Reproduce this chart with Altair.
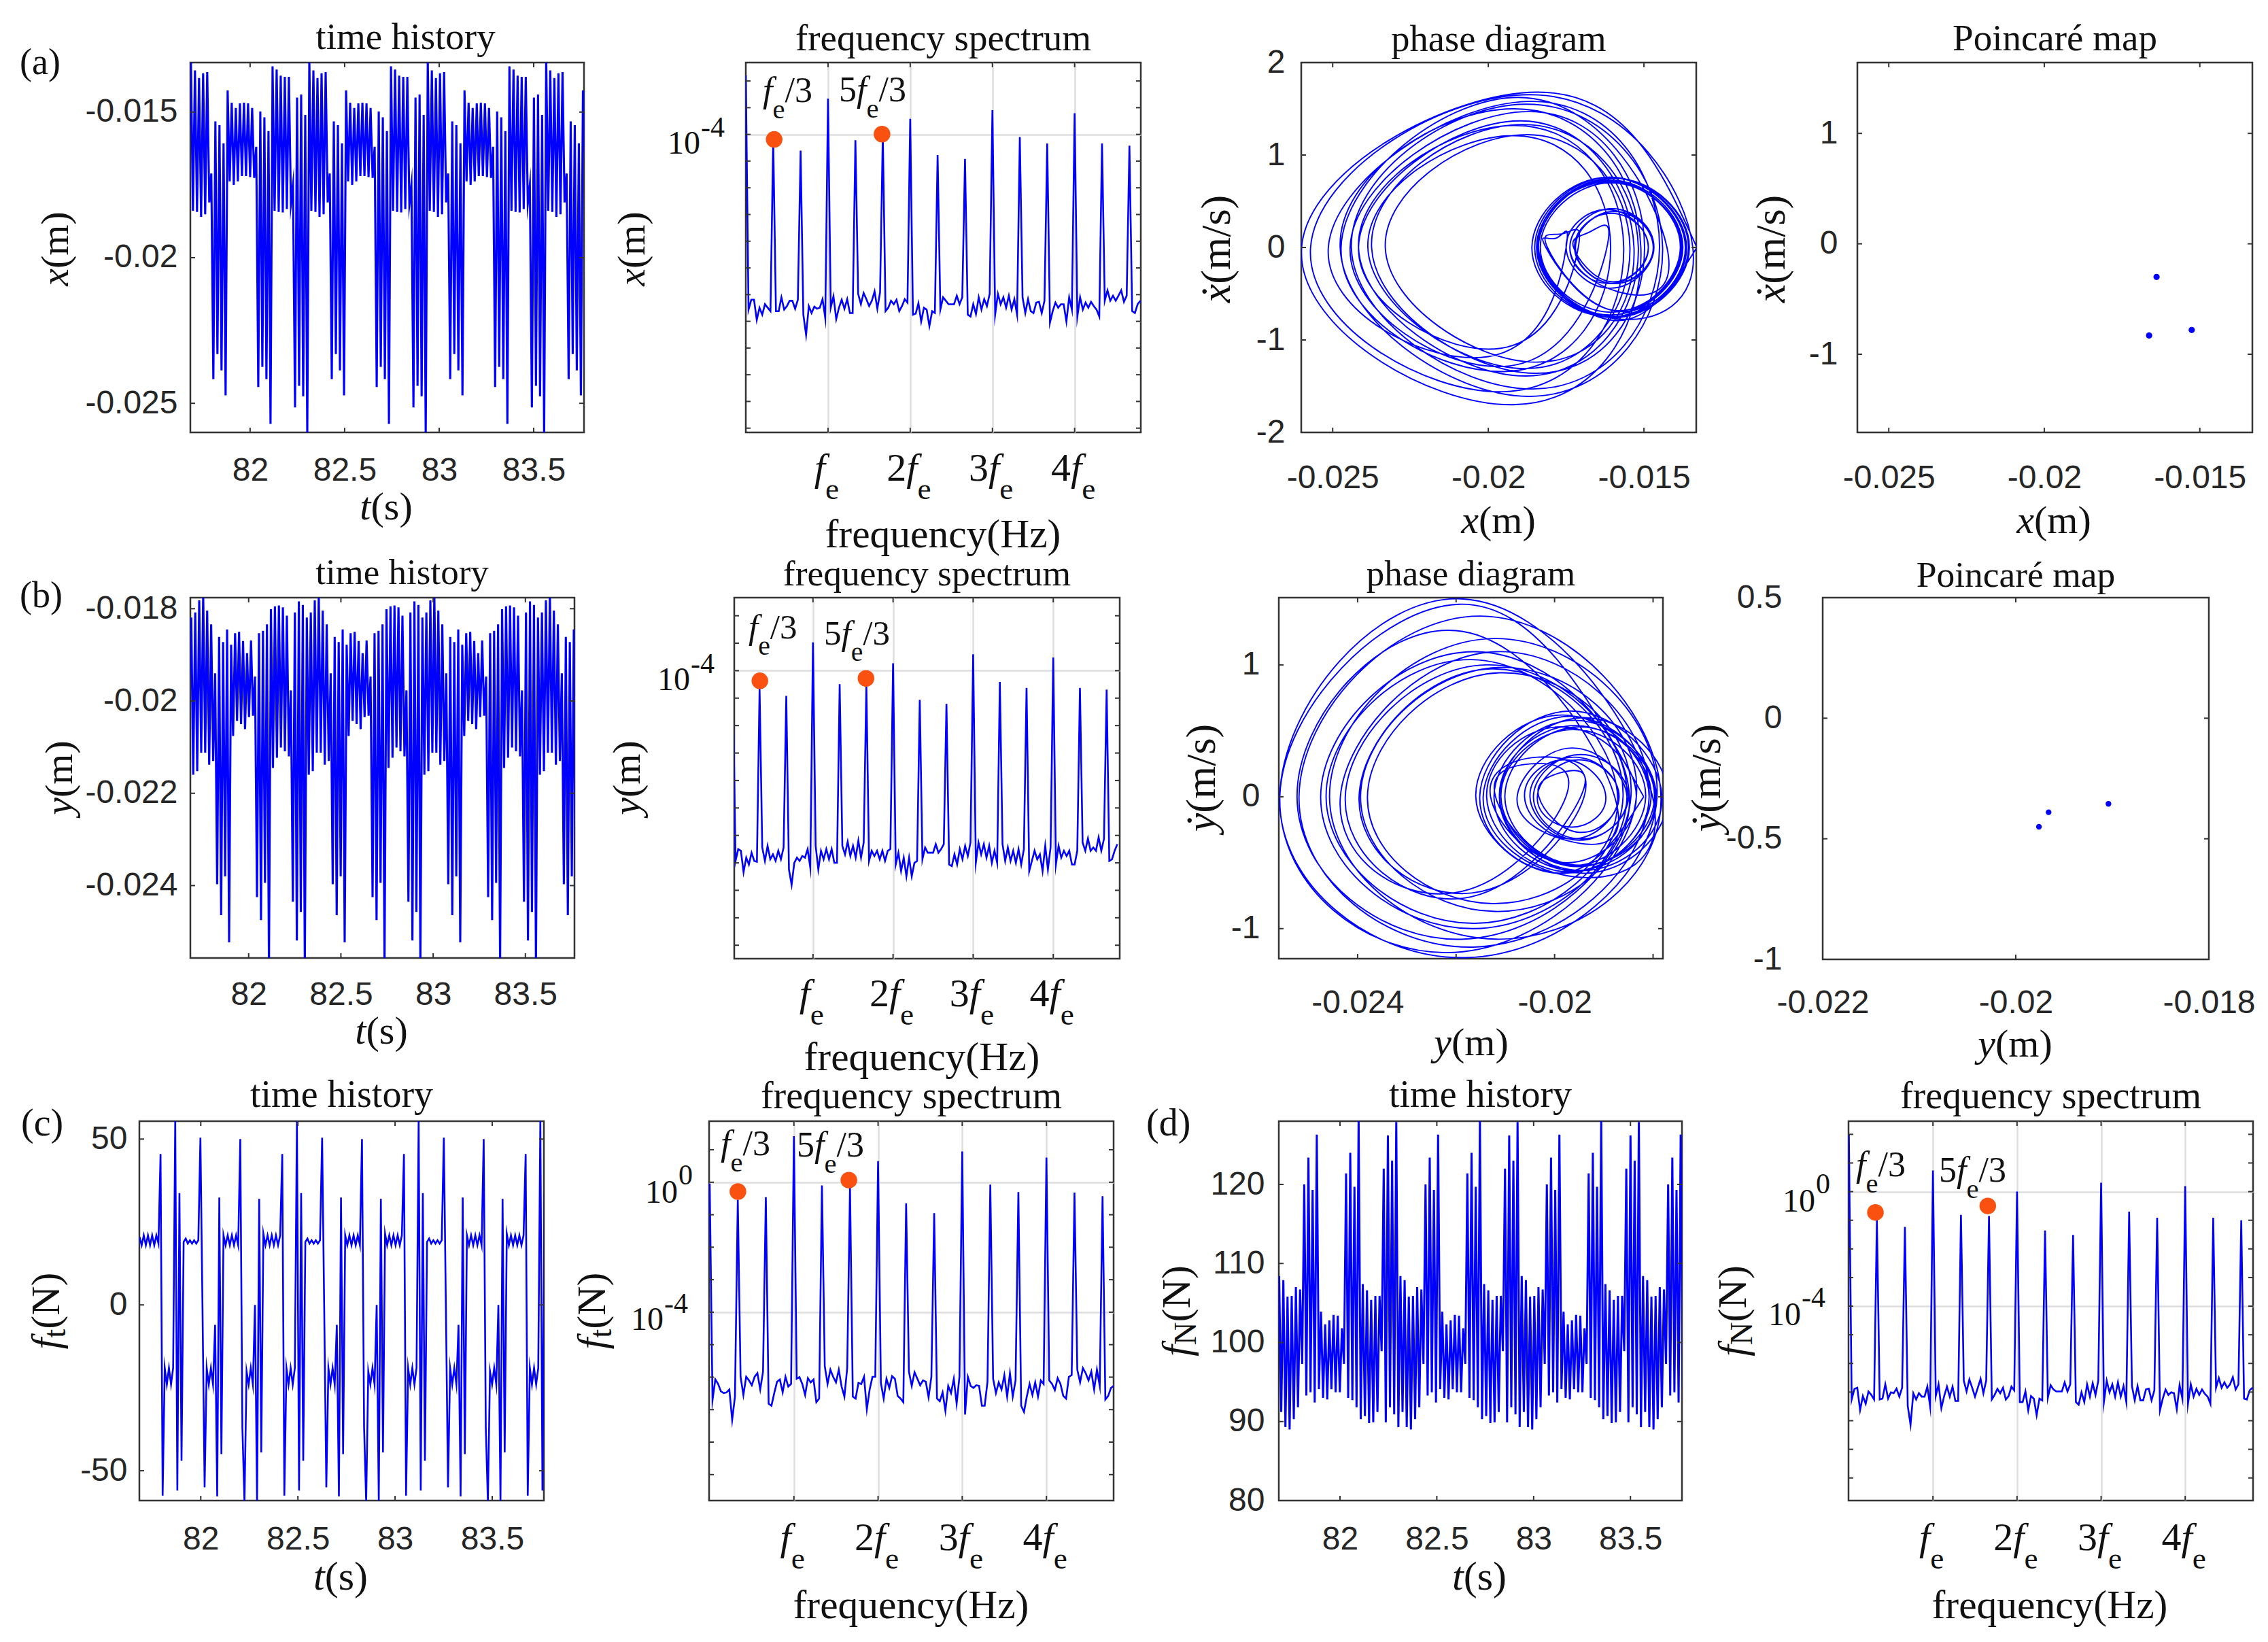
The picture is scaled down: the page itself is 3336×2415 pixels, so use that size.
import altair as alt
import pandas as pd

# ---------- time histories: samples every half oscillation ----------
t_step = 0.0108
t0_x, t0_y, t0_ft, t0_fn = 81.676, 81.678, 81.685, 81.675

# x(t) in mm
x_time_mm = [-16.67,
 -13.2,-18.39,-13.57,-18.43,-13.83,-18.60,-13.67,-18.51,-13.63,-18.10,-17.11,-24.17,-15.32,-23.31,-15.45,-23.87,-16.07,-24.73,-14.26,-17.38,-14.68,-17.50,-14.86,-17.38,-14.70,-17.20,-14.68,-17.20,-14.70,-17.23,-14.86,-17.26,-16.19,-24.44,-14.98,-23.75,-15.18,-24.17,-15.65,-25.71,-13.43,-18.39,-13.54,-18.43,-13.75,-18.45,-13.79,-18.33,-13.79,-18.15,-17.50,-25.14,-14.50,-24.40,-14.40,-24.76,-15.10,-26.1,
 -13.2,-18.39,-13.57,-18.43,-13.83,-18.60,-13.67,-18.51,-13.63,-18.10,-17.11,-24.17,-15.32,-23.31,-15.45,-23.87,-16.07,-24.73,-14.26,-17.38,-14.68,-17.50,-14.86,-17.38,-14.70,-17.20,-14.68,-17.20,-14.70,-17.23,-14.86,-17.26,-16.19,-24.44,-14.98,-23.75,-15.18,-24.17,-15.65,-25.71,-13.43,-18.39,-13.54,-18.43,-13.75,-18.45,-13.79,-18.33,-13.79,-18.15,-17.50,-25.14,-14.50,-24.40,-14.40,-24.76,-15.10,-26.1,
 -13.2,-18.39,-13.57,-18.43,-13.83,-18.60,-13.67,-18.51,-13.63,-18.10,-17.11,-24.17,-15.32,-23.31,-15.45,-23.87,-16.07,-24.73,-14.26,-17.38,-14.68,-17.50,-14.86,-17.38,-14.70,-17.20,-14.68,-17.20,-14.70,-17.23,-14.86,-17.26,-16.19,-24.44,-14.98,-23.75,-15.18,-24.17,-15.65,-25.71,-13.43,-18.39,-13.54,-18.43,-13.75,-18.45,-13.79,-18.33,-13.79,-18.15,-17.50,-25.14,-14.50,-24.40,-14.40,-24.76,-15.10,-26.1,
 -13.2,-18.39,-13.57,-18.43,-13.83,-18.60,-13.67,-18.51,-13.63,-18.10,-17.11,-24.17,-15.32,-23.31,-15.45,-23.87,-16.07,-24.73,-14.26,-16.5]

# y(t) in mm
y_time_mm = [-19.62,
 -18.19,-21.60,-18.08,-21.52,-17.82,-21.12,-17.7,-21.12,-18.04,-21.38,-18.34,-21.30,-19.40,-23.97,-18.61,-24.64,-18.72,-23.80,-18.45,-25.23,-18.78,-20.76,-18.53,-20.43,-18.50,-20.50,-18.70,-20.61,-18.96,-20.35,-18.69,-20.32,-19.47,-24.25,-18.53,-24.75,-18.48,-23.94,-18.34,-25.7,-18.01,-21.45,-17.95,-21.23,-17.93,-21.01,-17.97,-21.09,-18.15,-21.20,-19.77,-24.35,-18.08,-25.19,-17.84,-24.57,-17.92,-25.7,
 -18.19,-21.60,-18.08,-21.52,-17.82,-21.12,-17.7,-21.12,-18.04,-21.38,-18.34,-21.30,-19.40,-23.97,-18.61,-24.64,-18.72,-23.80,-18.45,-25.23,-18.78,-20.76,-18.53,-20.43,-18.50,-20.50,-18.70,-20.61,-18.96,-20.35,-18.69,-20.32,-19.47,-24.25,-18.53,-24.75,-18.48,-23.94,-18.34,-25.7,-18.01,-21.45,-17.95,-21.23,-17.93,-21.01,-17.97,-21.09,-18.15,-21.20,-19.77,-24.35,-18.08,-25.19,-17.84,-24.57,-17.92,-25.7,
 -18.19,-21.60,-18.08,-21.52,-17.82,-21.12,-17.7,-21.12,-18.04,-21.38,-18.34,-21.30,-19.40,-23.97,-18.61,-24.64,-18.72,-23.80,-18.45,-25.23,-18.78,-20.76,-18.53,-20.43,-18.50,-20.50,-18.70,-20.61,-18.96,-20.35,-18.69,-20.32,-19.47,-24.25,-18.53,-24.75,-18.48,-23.94,-18.34,-25.7,-18.01,-21.45,-17.95,-21.23,-17.93,-21.01,-17.97,-21.09,-18.15,-21.20,-19.77,-24.35,-18.08,-25.19,-17.84,-24.57,-17.92,-25.7,
 -18.19,-21.60,-18.08,-21.52,-17.82,-21.12,-17.7,-21.12,-18.04,-21.38,-18.34,-21.30,-19.40,-23.97,-18.61,-24.64,-18.72,-23.80,-18.45,-25.23,-18.78,-19.9]

# f_t(t) in N
ft_time = [20.5,18,21,18,21,18,21,18,21,18.5,
 45.5,-57.5,-19,-24,-19,-24,-19,56,-56,33.7,-47,19,20,18.5,19.5,18.5,19.5,18.5,19.5,50.4,-1.4,-55,-19,-24,-19,-24,-6,-57.7,32.4,-45,21,18,21,18,21,18,21,18,50,-37,-59.5,-20,-24,-19,-24,0,-59.5,32,-44.5,21.5,18,21,18,21,18,21,18,21,
 45.5,-57.5,-19,-24,-19,-24,-19,56,-56,33.7,-47,19,20,18.5,19.5,18.5,19.5,18.5,19.5,50.4,-1.4,-55,-19,-24,-19,-24,-6,-57.7,32.4,-45,21,18,21,18,21,18,21,18,50,-37,-59.5,-20,-24,-19,-24,0,-59.5,32,-44.5,21.5,18,21,18,21,18,21,18,21,
 45.5,-57.5,-19,-24,-19,-24,-19,56,-56,33.7,-47,19,20,18.5,19.5,18.5,19.5,18.5,19.5,50.4,-1.4,-55,-19,-24,-19,-24,-6,-57.7,32.4,-45,21,18,21,18,21,18,21,18,50,-37,-59.5,-20,-24,-19,-24,0,-59.5,32,-44.5,21.5,18,21,18,21,18,21,18,21,
 45.5,-57.5,-19,-24,-19,-24,-19,56,-56,33.7,-47,20]

# f_N(t) in N
fn_time = [98.4,
 108.4,91.2,107.9,89.3,105.8,89.0,105.9,90.3,107.0,91.8,106.7,97.3,120.0,93.3,123.4,93.7,119.3,92.4,126.3,94.1,103.9,93.0,102.3,92.8,102.8,94.1,103.5,93.7,103.4,93.7,101.8,97.3,121.4,93.0,124.0,92.7,119.7,91.8,128.2,90.3,107.4,90.7,106.6,89.8,105.4,89.9,105.9,91.2,105.9,98.9,122.0,89.9,126.2,91.8,123.0,90.9,127.9,89.3,
 108.4,91.2,107.9,89.3,105.8,89.0,105.9,90.3,107.0,91.8,106.7,97.3,120.0,93.3,123.4,93.7,119.3,92.4,126.3,94.1,103.9,93.0,102.3,92.8,102.8,94.1,103.5,93.7,103.4,93.7,101.8,97.3,121.4,93.0,124.0,92.7,119.7,91.8,128.2,90.3,107.4,90.7,106.6,89.8,105.4,89.9,105.9,91.2,105.9,98.9,122.0,89.9,126.2,91.8,123.0,90.9,127.9,89.3,
 108.4,91.2,107.9,89.3,105.8,89.0,105.9,90.3,107.0,91.8,106.7,97.3,120.0,93.3,123.4,93.7,119.3,92.4,126.3,94.1,103.9,93.0,102.3,92.8,102.8,94.1,103.5,93.7,103.4,93.7,101.8,97.3,121.4,93.0,124.0,92.7,119.7,91.8,128.2,90.3,107.4,90.7,106.6,89.8,105.4,89.9,105.9,91.2,105.9,98.9,122.0,89.9,126.2,91.8,123.0,90.9,127.9,89.3,
 108.4,91.2,107.9,89.3,105.8,89.0,105.9,90.3,107.0,91.8,106.7,97.3,120.0,93.3,123.4,93.7,119.3,92.4,126.3,94.1,99.0]

# ---------- spectra: log10 amplitude per bin, bins fe/30 apart ----------
spec_x = [-1.79,-10.56,-10.19,-10.19,-10.95,-10.49,-10.75,-10.36,-10.49,-10.62,-4.19,-10.62,-10.62,-10.10,-10.56,-10.43,-10.23,-10.23,-10.53,-10.19,-4.61,-10.75,-11.51,-10.43,-10.69,-10.45,-10.53,-10.49,-10.17,-10.88,-2.66,-10.49,-10.06,-10.92,-10.49,-10.19,-10.53,-10.17,-10.69,-10.69,-4.22,-9.97,-10.36,-9.94,-10.17,-10.43,-10.23,-9.88,-10.53,-9.91,-4.0,-10.62,-10.49,-10.23,-10.36,-10.19,-10.62,-10.43,-10.17,-10.30,-3.42,-10.75,-10.71,-10.32,-11.01,-10.49,-10.56,-11.18,-10.62,-10.69,-4.77,-10.56,-10.10,-10.23,-10.36,-10.36,-10.36,-10.04,-10.36,-10.10,-4.92,-10.75,-10.82,-10.36,-10.73,-10.10,-10.56,-10.17,-10.43,-9.97,-3.09,-10.75,-9.97,-10.36,-10.10,-10.49,-10.04,-10.56,-10.17,-10.75,-4.10,-10.10,-10.69,-10.17,-10.62,-10.69,-10.30,-10.27,-10.69,-10.23,-4.34,-11.05,-10.62,-10.30,-10.49,-10.36,-10.36,-11.01,-10.10,-10.56,-3.21,-10.82,-10.10,-10.56,-10.30,-10.49,-10.27,-10.43,-10.56,-10.82,-4.34,-10.23,-9.84,-10.23,-10.04,-10.23,-10.04,-9.84,-10.27,-10.04,-4.42,-10.62,-10.69,-10.36,-10.23]
spec_y = [-4.65,-10.93,-10.50,-10.56,-11.34,-10.81,-11.06,-10.63,-10.93,-10.96,-4.65,-10.44,-10.93,-10.38,-10.87,-10.69,-10.93,-10.56,-10.87,-10.44,-4.92,-11.24,-11.80,-11.0,-10.81,-10.93,-10.75,-10.81,-10.50,-11.18,-2.97,-10.38,-11.24,-10.56,-10.87,-10.50,-10.87,-10.50,-11.0,-11.0,-4.49,-10.38,-10.69,-10.23,-10.75,-10.38,-10.81,-10.19,-10.81,-10.26,-4.53,-10.93,-10.56,-10.75,-10.56,-10.87,-10.56,-10.93,-10.56,-10.50,-3.73,-11.06,-10.63,-11.30,-10.81,-11.49,-10.81,-11.49,-11.0,-10.93,-5.06,-10.87,-10.44,-10.63,-10.63,-10.63,-10.32,-10.63,-10.50,-10.32,-5.21,-11.06,-11.12,-10.69,-11.06,-10.50,-10.87,-10.38,-10.75,-10.26,-3.40,-11.0,-10.26,-10.69,-10.32,-10.81,-10.38,-11.0,-10.56,-11.0,-4.41,-10.32,-10.93,-10.44,-10.93,-10.56,-11.0,-10.50,-11.06,-10.50,-4.63,-11.30,-10.93,-10.56,-10.87,-10.69,-11.30,-10.38,-11.24,-10.44,-3.52,-11.06,-10.38,-10.81,-10.56,-10.75,-10.56,-11.06,-11.06,-10.56,-4.63,-10.26,-10.56,-10.11,-10.56,-10.44,-10.56,-10.07,-10.56,-10.13,-4.69,-10.93,-10.87,-10.56,-10.32]
spec_ft = [-.04,-6.71,-6.07,-6.21,-6.44,-6.49,-6.47,-6.38,-7.32,-6.60,-.54,-5.99,-6.55,-5.99,-6.10,-6.25,-5.99,-5.88,-6.38,-5.83,-.46,-6.82,-6.88,-6.49,-6.14,-6.07,-6.47,-5.99,-6.29,-6.21,1.42,-6.05,-6.0,-6.21,-6.55,-6.03,-6.16,-6.07,-6.77,-6.66,-.10,-5.66,-6.21,-5.77,-5.99,-6.16,-5.77,-6.29,-6.60,-5.72,-.15,-6.60,-6.66,-6.18,-6.21,-5.99,-6.99,-6.38,-5.99,-5.99,.65,-6.18,-6.66,-6.05,-6.33,-5.97,-6.05,-6.58,-6.66,-6.77,-.65,-5.83,-6.27,-5.85,-6.05,-6.25,-6.10,-6.14,-6.62,-5.99,-.95,-6.66,-6.74,-6.47,-7.04,-6.27,-6.49,-6.05,-6.82,-5.99,.95,-7.15,-5.99,-6.27,-6.33,-6.25,-6.27,-6.88,-6.88,-6.14,-.07,-6.05,-6.49,-6.16,-6.38,-5.94,-6.60,-5.88,-6.60,-6.10,-.30,-6.88,-7.07,-6.60,-6.21,-6.55,-6.16,-6.60,-6.10,-6.21,.76,-6.10,-6.21,-6.40,-6.03,-6.21,-6.58,-6.66,-5.99,-5.94,-.32,-5.77,-6.16,-5.72,-5.88,-6.10,-5.83,-6.38,-5.77,-6.27,-.43,-6.69,-6.58,-6.33,-6.27]
spec_fn = [1.99,-7.26,-6.89,-6.85,-7.63,-7.14,-7.41,-6.98,-7.10,-7.26,-.98,-7.26,-7.23,-6.73,-7.23,-7.01,-7.04,-6.88,-7.16,-6.85,-1.23,-7.48,-8.14,-7.04,-7.26,-7.04,-7.16,-7.16,-6.81,-7.51,.74,-7.14,-6.73,-7.56,-7.14,-6.81,-7.16,-6.81,-7.31,-7.31,-.81,-6.60,-6.98,-6.56,-6.85,-7.16,-6.85,-6.54,-7.04,-6.60,-.85,-7.26,-7.10,-6.89,-7.04,-6.85,-7.26,-7.14,-6.81,-6.94,0,-7.35,-7.35,-6.98,-7.64,-7.14,-7.23,-7.81,-7.23,-7.29,-1.36,-7.20,-6.76,-6.91,-6.98,-6.98,-6.98,-6.66,-6.98,-6.73,-1.51,-7.35,-7.44,-7.01,-7.35,-6.73,-7.16,-6.69,-7.10,-6.60,.31,-7.35,-6.60,-7.01,-6.73,-7.16,-6.66,-7.16,-6.79,-7.35,-.70,-6.79,-7.29,-6.79,-7.29,-7.29,-6.91,-6.88,-7.29,-6.94,-.91,-7.64,-7.23,-6.91,-7.10,-7.01,-7.04,-7.60,-6.76,-7.23,.19,-7.41,-6.73,-7.16,-6.89,-7.10,-6.91,-7.06,-7.16,-7.41,-.91,-6.85,-6.51,-6.85,-6.66,-6.85,-6.73,-6.48,-6.91,-6.73,-1.0,-7.23,-7.26,-6.94,-6.85]
markers_x = ([.345,1.657], [-4.19,-3.99])
markers_y = ([.337,1.662], [-4.37,-4.28])
markers_ft = ([.335,1.653], [-.286,.066])
markers_fn = ([.316,1.652], [-.725,-.5])

# ---------- phase loops: right turn, lower extreme, left turn, upper extreme ... ----------
phase_x_mm = [-13.3,-15.85,-18.39,-15.98,-13.57,-16.0,-18.43,-16.13,-13.83,-16.22,-18.6,-16.14,-13.67,-16.09,-18.51,-16.07,-13.63,-15.87,-18.1,-17.6,-17.11,-19.6,-24.17,-19.0,-15.32,-18.5,-23.31,-18.8,-15.45,-18.8,-23.87,-19.2,-16.07,-19.4,-24.73,-18.8,-14.26,-15.82,-17.38,-16.03,-14.68,-16.09,-17.5,-16.18,-14.86,-16.12,-17.38,-16.04,-14.7,-15.95,-17.2,-15.94,-14.68,-15.94,-17.2,-15.95,-14.7,-15.97,-17.23,-16.05,-14.86,-16.06,-17.26,-16.73,-16.19,-19.3,-24.44,-18.7,-14.98,-18.5,-23.75,-18.9,-15.18,-18.8,-24.17,-19.2,-15.65,-19.5,-25.71,-18.4,-13.43,-15.91,-18.39,-15.97,-13.54,-15.99,-18.43,-16.09,-13.75,-16.1,-18.45,-16.12,-13.79,-16.06,-18.33,-16.06,-13.79,-15.97,-18.15,-17.83,-17.5,-20.0,-25.14,-18.7,-14.5,-18.6,-24.4,-18.8,-14.4,-18.7,-24.76,-19.2,-15.1,-19.2,-26.0,-18.4,-13.3]
phase_v_x = [0,-.79,0,.75,0,-.75,0,.71,0,-.74,0,.76,0,-.75,0,.76,0,-.69,0,.15,0,-1.09,0,1.37,0,-1.24,0,1.22,0,-1.31,0,1.21,0,-1.34,0,1.62,0,-.48,0,.42,0,-.44,0,.41,0,-.39,0,.42,0,-.39,0,.39,0,-.39,0,.39,0,-.39,0,.37,0,-.37,0,.17,0,-1.28,0,1.47,0,-1.36,0,1.33,0,-1.39,0,1.32,0,-1.56,0,1.65,0,-.77,0,.75,0,-.76,0,.73,0,-.73,0,.72,0,-.70,0,.70,0,-.68,0,.10,0,-1.18,0,1.58,0,-1.53,0,1.55,0,-1.61,0,1.50,0,-1.70,0,1.68,0]
phase_y_mm = [-18.19,-19.9,-21.6,-19.84,-18.08,-19.8,-21.52,-19.67,-17.82,-19.47,-21.12,-19.41,-17.7,-19.41,-21.12,-19.58,-18.04,-19.71,-21.38,-19.86,-18.34,-19.82,-21.3,-20.35,-19.4,-21.68,-23.97,-21.29,-18.61,-21.62,-24.64,-21.68,-18.72,-21.26,-23.8,-21.12,-18.45,-21.84,-25.23,-22.0,-18.78,-19.77,-20.76,-19.65,-18.53,-19.48,-20.43,-19.47,-18.5,-19.5,-20.5,-19.6,-18.7,-19.65,-20.61,-19.78,-18.96,-19.65,-20.35,-19.52,-18.69,-19.5,-20.32,-19.9,-19.47,-21.86,-24.25,-21.39,-18.53,-21.64,-24.75,-21.6,-18.48,-21.21,-23.94,-21.14,-18.34,-22.02,-25.58,-21.85,-18.01,-19.73,-21.45,-19.7,-17.95,-19.59,-21.23,-19.58,-17.93,-19.47,-21.01,-19.49,-17.97,-19.53,-21.09,-19.62,-18.15,-19.67,-21.2,-20.48,-19.77,-22.06,-24.35,-21.2,-18.08,-21.64,-25.19,-21.5,-17.84,-21.2,-24.57,-21.24,-17.92,-21.8,-25.58,-21.94,-18.19]
phase_v_y = [0,-.58,0,.62,0,-.58,0,.65,0,-.56,0,.60,0,-.58,0,.54,0,-.57,0,.53,0,-.50,0,.30,0,-.73,0,.97,0,-.96,0,1.04,0,-.81,0,.94,0,-1.08,0,1.26,0,-.33,0,.37,0,-.32,0,.32,0,-.33,0,.30,0,-.32,0,.28,0,-.23,0,.28,0,-.27,0,.18,0,-.77,0,1.0,0,-1.0,0,1.1,0,-.87,0,.98,0,-1.18,0,1.50,0,-.6,0,.61,0,-.56,0,.58,0,-.52,0,.53,0,-.53,0,.51,0,-.52,0,.25,0,-.73,0,1.1,0,-1.14,0,1.37,0,-1.08,0,1.2,0,-1.22,0,1.46,0]

# ---------- Poincare points ----------
poincare_x = ([-.01639,-.01663,-.01526], [-.30,-.83,-.78])
poincare_y = ([-.01966,-.01976,-.01904], [-.39,-.45,-.355])

BLUE = "#0000FF"; ORANGE = "#FA5010"; INK = "#262626"; FRAME = "#333333"; GRID = "#DEDEDE"
SERIF = "Liberation Serif"; SANS = "Liberation Sans"
ONE = pd.DataFrame({"o": [0]})
W = {'f':.278,'x':.444,'y':.444,'t':.278,'N':.722,'e':.444,'/':.278,'(':.333,')':.333,'m':.778,'s':.389}

def text_layer(px, py, text, size, italic=False, angle=0, font=SERIF, color="#111111"):
    return alt.Chart(ONE).mark_text(text=text, fontSize=size, font=font, align="left", baseline="alphabetic",
                                    fontStyle="italic" if italic else "normal", angle=angle, color=color
                                    ).encode(x=alt.value(round(px, 1)), y=alt.value(round(py, 1)))

def width(s, size):
    return sum(W.get(c, .5) for c in s) * size

def rich(ox, oy, x, y, segs, size, angle=0, center=True, sub_dy=.47):
    """Place styled runs; x,y are page pixels of the start/centre and the baseline."""
    total = 0
    for s, k in segs:
        if k in "ir": total += width(s, size)
        if k == "s": total += width(s, size * .78)
    out, adv = [], -total / 2 if center else 0
    for s, k in segs:
        sz = size * .78 if k == "s" else size
        dy = size * sub_dy if k == "s" else 0
        dx = size * .1 if k == "d" else 0
        if angle == 0:
            px, py = x + adv + dx - ox, y + dy - oy
        else:
            px, py = x + dy - ox, y - adv - dx - oy
        out.append(text_layer(px, py, s, sz, italic=(k == "i"), angle=angle))
        if k in "irs": adv += width(s, sz)
    return out

TITLE_SHIFT = 55

def panel(box, xdom, ydom, series, title, xtick, ytick, xlab=None, ylab=None, padx=30, pady=20,
          title_size=55, title_off=17, title_dx=0, title_dy=0, log=False, lw=3.0, interp="linear", xgrid=None, ygrid=None,
          points=None, pt_size=85, pt_color=BLUE, extras=()):
    x0, x1, y0, y1 = box
    w, h = x1 - x0, y1 - y0
    xs = alt.Scale(domain=xdom, nice=False, zero=False)
    ys = alt.Scale(domain=ydom, nice=False, zero=False, type="log") if log else alt.Scale(domain=ydom, nice=False, zero=False)
    xaxis = alt.Axis(title=None, domain=False, ticks=False, labels=xlab is not None, values=xlab if xlab else (xgrid or []),
                     labelFont=SANS, labelFontSize=48, labelColor=INK, labelPadding=padx, labelExpr="''+datum.value",
                     labelOverlap=False, labelFlush=False, labelBound=False,
                     grid=bool(xgrid), gridColor=GRID, gridWidth=2.5)
    yaxis = alt.Axis(title=None, domain=False, ticks=False, labels=ylab is not None, values=ylab if ylab else (ygrid or []),
                     labelFont=SANS, labelFontSize=48, labelColor=INK, labelPadding=pady, labelExpr="''+datum.value",
                     labelOverlap=False, labelFlush=False, labelBound=False,
                     grid=bool(ygrid), gridColor=GRID, gridWidth=2.5)
    layers = []
    if series is not None:
        sx, sy = series
        df = pd.DataFrame({"a": sx, "b": sy, "i": range(len(sx))})
        layers.append(alt.Chart(df).mark_line(color=BLUE, strokeWidth=lw, clip=True, interpolate=interp, strokeJoin="miter", strokeMiterLimit=20).encode(
            x=alt.X("a:Q", scale=xs, axis=xaxis), y=alt.Y("b:Q", scale=ys, axis=yaxis), order="i:Q"))
    if points is not None:
        df = pd.DataFrame({"a": points[0], "b": points[1]})
        enc = dict(x=alt.X("a:Q", scale=xs, axis=None if series is not None else xaxis),
                   y=alt.Y("b:Q", scale=ys, axis=None if series is not None else yaxis))
        layers.append(alt.Chart(df).mark_circle(size=pt_size, color=pt_color, opacity=1).encode(**enc))
    L = 7
    dfx = pd.DataFrame({"a": xtick}); dfy = pd.DataFrame({"b": ytick})
    X = alt.X("a:Q", scale=xs, axis=None); Y = alt.Y("b:Q", scale=ys, axis=None)
    tick = dict(color=FRAME, strokeWidth=2)
    layers += [
        alt.Chart(dfx).mark_rule(**tick).encode(x=X, y=alt.value(h), y2=alt.value(h - L)),
        alt.Chart(dfx).mark_rule(**tick).encode(x=X, y=alt.value(0), y2=alt.value(L)),
        alt.Chart(dfy).mark_rule(**tick).encode(y=Y, x=alt.value(0), x2=alt.value(L)),
        alt.Chart(dfy).mark_rule(**tick).encode(y=Y, x=alt.value(w), x2=alt.value(w - L)),
    ]
    layers += list(extras)
    tp = alt.TitleParams(text=title, font=SERIF, fontSize=title_size, fontWeight="normal", color="#111111",
                         offset=title_off, dx=title_dx, dy=TITLE_SHIFT + title_dy, anchor="middle", baseline="alphabetic")
    return alt.layer(*layers).resolve_axis(x="independent", y="independent").properties(width=w, height=h, title=tp)

def spacer(w):
    return alt.Chart(ONE).mark_point(opacity=0).encode(x=alt.value(0), y=alt.value(0)).properties(
        width=w, height=1, view=alt.ViewConfig(stroke=None, strokeWidth=0))

ORIGIN_X = 205

def row(boxes, charts):
    items = []
    if boxes[0][0] > ORIGIN_X:
        items.append(spacer(boxes[0][0] - ORIGIN_X))
    for i, c in enumerate(charts):
        if i:
            items.append(spacer(boxes[i][0] - boxes[i - 1][1]))
        items.append(c)
    return alt.hconcat(*items, spacing=0, bounds="flush")

def fe_labels(box, xdom, base, size=58):
    x0, x1, y0, y1 = box
    out = []
    for n, pre in zip([1, 2, 3, 4], ["", "2", "3", "4"]):
        cx = x0 + (n - xdom[0]) / (xdom[1] - xdom[0]) * (x1 - x0) - 2
        segs = ([(pre, "r")] if pre else []) + [("f", "i"), ("e", "s")]
        out += rich(x0, y0, cx, base, segs, size)
    return out

def ten(box, edom, e, right, label, base_off, sup_off, size=48, sup=42):
    x0, x1, y0, y1 = box
    ty = y0 + (edom[1] - e) / (edom[1] - edom[0]) * (y1 - y0)
    sw = width(label, sup)
    return [text_layer(right - sw - 2 * size * .5 - 1 - x0, ty + base_off - y0, "10", size),
            text_layer(right - sw - x0, ty + sup_off - y0, label, sup)]

def fracs(box, p1, p2, size=52):
    x0, _, y0, _ = box
    return (rich(x0, y0, p1[0], p1[1], [("f", "i"), ("e", "s"), ("/3", "r")], size, center=False) +
            rich(x0, y0, p2[0], p2[1], [("5", "r"), ("f", "i"), ("e", "s"), ("/3", "r")], size, center=False))

TS = lambda t0, n: [round(t0 + i * t_step, 4) for i in range(n)]
BINS = lambda n: [i / 30 for i in range(n)]
POW = lambda es: [10.0 ** e for e in es]
TIME_DOM = [81.684, 83.766]
T_TICKS = [82, 82.5, 83, 83.5]
FE = [1, 2, 3, 4]
def decades(a, b): return [10.0 ** e for e in range(a, b + 1)]

A1 = (280, 859, 91, 635); A2 = (1097, 1678, 91, 635); A3 = (1914, 2495, 91, 635); A4 = (2732, 3313, 91, 635)
B1 = (280, 845, 878, 1408); B2 = (1080, 1647, 878, 1409); B3 = (1881, 2446, 878, 1409); B4 = (2681, 3249, 878, 1410)
C1 = (205, 800, 1648, 2206); C2 = (1043, 1638, 1648, 2206); D1 = (1881, 2474, 1648, 2206); D2 = (2719, 3314, 1648, 2206)
DOT = 600

def ytitle(box, x, y, segs, size=58): return rich(box[0], box[2], x, y, segs, size, angle=270, sub_dy=.15)
def xtitle(box, x, y, segs, size=58): return rich(box[0], box[2], x, y, segs, size)
def freq(box, x, y, size=59.5): return [text_layer(x - 173.5 * size / 59.5 - box[0], y - box[2], "frequency(Hz)", size)]

# ---------- row (a) ----------
a1 = panel(A1, TIME_DOM, [-.026, -.0133], (TS(t0_x, len(x_time_mm)), [v / 1000 for v in x_time_mm]), "time history",
           T_TICKS, [-.025, -.02, -.015], xlab=T_TICKS, ylab=[-.025, -.02, -.015], padx=32, pady=19, title_dx=27, title_dy=23, lw=3.1,
           extras=[text_layer(29 - A1[0], 108 - A1[2], "(a)", 54)] +
                  ytitle(A1, 100, 365, [("x", "i"), ("(m)", "r")]) + xtitle(A1, 568, 763, [("t", "i"), ("(s)", "r")]))
edA = [-15.16, -1.31]
a2 = panel(A2, [0, 4.805], [10.0 ** edA[0], 10.0 ** edA[1]], (BINS(145), POW(spec_x)), "frequency spectrum",
           FE, decades(-15, -2), log=True, lw=2.6, xgrid=FE, ygrid=[1e-4],
           points=(markers_x[0], POW(markers_x[1])), pt_size=DOT, pt_color=ORANGE,
           extras=ten(A2, edA, -4, 1073, "-4", 28, 3) + fe_labels(A2, [0, 4.805], 706) + fracs(A2, (1122, 149), (1234, 148)) +
                  ytitle(A2, 948, 365, [("x", "i"), ("(m)", "r")]) + freq(A2, 1387, 804))
a3 = panel(A3, [-.02601, -.01332], [-2, 2], ([v / 1000 for v in phase_x_mm], phase_v_x), "phase diagram",
           [-.025, -.02, -.015], [-2, -1, 0, 1, 2], xlab=[-.025, -.02, -.015], ylab=[-2, -1, 0, 1, 2], padx=43, pady=24, lw=1.9, interp="natural", title_size=54.5, title_dy=23,
           extras=ytitle(A3, 1809, 365, [("\u02d9", "d"), ("x", "i"), ("(m/s)", "r")], 62) + xtitle(A3, 2204, 783, [("x", "i"), ("(m)", "r")]))
a4 = panel(A4, [-.02601, -.01331], [-1.708, 1.6415], None, "Poincar\u00e9 map",
           [-.025, -.02, -.015], [-1, 0, 1], xlab=[-.025, -.02, -.015], ylab=[-1, 0, 1], padx=43, pady=29,
           points=(poincare_x[0], poincare_x[1]), pt_size=85,
           extras=ytitle(A4, 2625, 365, [("\u02d9", "d"), ("x", "i"), ("(m/s)", "r")], 62) + xtitle(A4, 3021, 783, [("x", "i"), ("(m)", "r")]))

# ---------- row (b) ----------
b1 = panel(B1, TIME_DOM, [-.02557, -.01776], (TS(t0_y, len(y_time_mm)), [v / 1000 for v in y_time_mm]), "time history",
           T_TICKS, [-.024, -.022, -.02, -.018], xlab=T_TICKS, ylab=[-.024, -.022, -.02, -.018], padx=30, pady=19, title_dx=29, title_size=53, title_off=19, title_dy=26, lw=3.1,
           extras=[text_layer(29 - B1[0], 892 - B1[2], "(b)", 54)] +
                  ytitle(B1, 106, 1143, [("y", "i"), ("(m)", "r")]) + xtitle(B1, 561, 1534, [("t", "i"), ("(s)", "r")]))
edB = [-14.49, -1.34]
b2dom = [.017, 4.83]
b2 = panel(B2, b2dom, [10.0 ** edB[0], 10.0 ** edB[1]], (BINS(145), POW(spec_y)), "frequency spectrum",
           FE, decades(-14, -2), log=True, lw=2.6, xgrid=FE, ygrid=[1e-4], title_size=53.5, title_off=19,
           points=(markers_y[0], POW(markers_y[1])), pt_size=DOT, pt_color=ORANGE,
           extras=ten(B2, edB, -4, 1058, "-4", 29, 4) + fe_labels(B2, b2dom, 1479) + fracs(B2, (1101, 938), (1212, 947), 51) +
                  ytitle(B2, 941, 1143, [("y", "i"), ("(m)", "r")]) + freq(B2, 1356, 1573))
b3 = panel(B3, [-.0256, -.0178], [-1.228, 1.51], ([v / 1000 for v in phase_y_mm], phase_v_y), "phase diagram",
           [-.024, -.022, -.02, -.018], [-1, 0, 1], xlab=[-.024, -.02], ylab=[-1, 0, 1], padx=41, pady=28, lw=1.9, interp="natural", title_size=53, title_off=19,
           extras=ytitle(B3, 1787, 1143, [("\u02d9", "d"), ("y", "i"), ("(m/s)", "r")], 62) + xtitle(B3, 2164, 1551, [("y", "i"), ("(m)", "r")]))
b4 = panel(B4, [-.022, -.018], [-1, .5], None, "Poincar\u00e9 map",
           [-.022, -.02, -.018], [-1, -.5, 0, .5], xlab=[-.022, -.02, -.018], ylab=[-1, -.5, 0, .5], padx=40, pady=60, title_size=53.5, title_off=19, title_dy=25,
           points=(poincare_y[0], poincare_y[1]), pt_size=70,
           extras=ytitle(B4, 2530, 1143, [("\u02d9", "d"), ("y", "i"), ("(m/s)", "r")], 62) + xtitle(B4, 2964, 1553, [("y", "i"), ("(m)", "r")]))

# ---------- row (c)/(d) ----------
c1 = panel(C1, TIME_DOM, [-59, 55.4], (TS(t0_ft, len(ft_time)), ft_time), "time history",
           T_TICKS, [-50, 0, 50], xlab=T_TICKS, ylab=[-50, 0, 50], padx=33, pady=18, title_size=56, title_dy=21, lw=2.6,
           extras=[text_layer(31 - C1[0], 1669 - C1[2], "(c)", 56)] +
                  ytitle(C1, 87, 1927, [("f", "i"), ("t", "s"), ("(N)", "r")], 60) + xtitle(C1, 501, 2337, [("t", "i"), ("(s)", "r")], 60))
edC = [-9.8, 1.88]
c2dom = [-.0074, 4.798]
c2 = panel(C2, c2dom, [10.0 ** edC[0], 10.0 ** edC[1]], (BINS(145), POW(spec_ft)), "frequency spectrum",
           FE, decades(-9, 1), log=True, lw=2.6, xgrid=FE, ygrid=[1, 1e-4], title_size=56,
           points=(markers_ft[0], POW(markers_ft[1])), pt_size=DOT, pt_color=ORANGE,
           extras=ten(C2, edC, 0, 1019, "0", 30, 3) + ten(C2, edC, -4, 1019, "-4", 26, 1) + fe_labels(C2, c2dom, 2279) +
                  fracs(C2, (1060, 1698), (1172, 1700)) +
                  ytitle(C2, 890, 1927, [("f", "i"), ("t", "s"), ("(N)", "r")], 60) + freq(C2, 1340, 2379))
d1 = panel(D1, TIME_DOM, [80, 128], (TS(t0_fn, len(fn_time)), fn_time), "time history",
           T_TICKS, [80, 90, 100, 110, 120], xlab=T_TICKS, ylab=[80, 90, 100, 110, 120], padx=33, pady=21, title_size=56, title_dy=21, lw=3.0,
           extras=[text_layer(1686 - D1[0], 1669 - D1[2], "(d)", 56)] +
                  ytitle(D1, 1750, 1927, [("f", "i"), ("N", "s"), ("(N)", "r")], 60) + xtitle(D1, 2176, 2337, [("t", "i"), ("(s)", "r")], 60))
edD = [-10.79, 2.46]
d2dom = [-.004, 4.807]
d2 = panel(D2, d2dom, [10.0 ** edD[0], 10.0 ** edD[1]], (BINS(145), POW(spec_fn)), "frequency spectrum",
           FE, decades(-10, 2), log=True, lw=2.6, xgrid=FE, ygrid=[1, 1e-4], title_size=56,
           points=(markers_fn[0], POW(markers_fn[1])), pt_size=DOT, pt_color=ORANGE,
           extras=ten(D2, edD, 0, 2692, "0", 29, 2) + ten(D2, edD, -4, 2692, "-4", 28, 1) + fe_labels(D2, d2dom, 2279) +
                  fracs(D2, (2730, 1729), (2852, 1737)) +
                  ytitle(D2, 2568, 1927, [("f", "i"), ("N", "s"), ("(N)", "r")], 60) + freq(D2, 3015, 2379))

rowA = row([A1, A2, A3, A4], [a1, a2, a3, a4])
rowB = row([B1, B2, B3, B4], [b1, b2, b3, b4])
rowC = row([C1, C2, D1, D2], [c1, c2, d1, d2])
upper = alt.vconcat(rowA, rowB, spacing=B1[2] - A1[2], bounds="flush")
chart = alt.vconcat(upper, rowC, spacing=C1[2] - A1[2], bounds="flush").properties(
    padding={"left": 19, "top": 18, "right": 5, "bottom": 5}, background="white"
).configure_view(stroke=FRAME, strokeWidth=2.5)

chart.save("out.html", embed_options={"renderer": "svg", "actions": False})
